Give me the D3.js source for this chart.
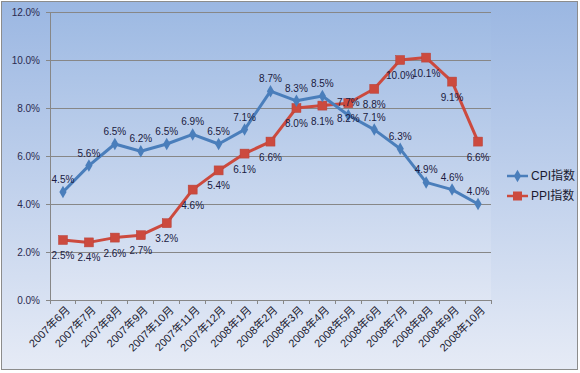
<!DOCTYPE html>
<html><head><meta charset="utf-8">
<script src="https://cdn.jsdelivr.net/npm/d3@7"></script>
<style>body{margin:0;background:#fff}svg{display:block}</style>
</head><body>
<script>
const categories = ["2007年6月","2007年7月","2007年8月","2007年9月","2007年10月","2007年11月","2007年12月","2008年1月","2008年2月","2008年3月","2008年4月","2008年5月","2008年6月","2008年7月","2008年8月","2008年9月","2008年10月"];
const cpi = [4.5,5.6,6.5,6.2,6.5,6.9,6.5,7.1,8.7,8.3,8.5,7.7,7.1,6.3,4.9,4.6,4.0];
const ppi = [2.5,2.4,2.6,2.7,3.2,4.6,5.4,6.1,6.6,8.0,8.1,8.2,8.8,10.0,10.1,9.1,6.6];
const yTicks = [0,2,4,6,8,10,12];
const seriesNames = ["CPI指数","PPI指数"];

const W=580,H=373;
const svg=d3.select("body").append("svg").attr("width",W).attr("height",H);
const defs=svg.append("defs");
const g1=defs.append("linearGradient").attr("id","bg").attr("x1",0).attr("y1",0).attr("x2",0).attr("y2",1);
g1.append("stop").attr("offset","0%").attr("stop-color","#9bb7e2");
g1.append("stop").attr("offset","100%").attr("stop-color","#e6ebf6");
const g2=defs.append("linearGradient").attr("id","pa").attr("x1",0).attr("y1",0).attr("x2",0).attr("y2",1);
g2.append("stop").attr("offset","0%").attr("stop-color","#9ebae3");
g2.append("stop").attr("offset","100%").attr("stop-color","#dfe6f4");

svg.append("rect").attr("x",1.5).attr("y",1.5).attr("width",576).attr("height",368)
  .attr("fill","url(#bg)").attr("stroke","#8c8c8c");

const m={l:50,r:491,t:12,b:300};
const x=d3.scaleBand().domain(categories).range([m.l,m.r]);
const y=d3.scaleLinear().domain([0,12]).range([m.b,m.t]);

svg.append("rect").attr("x",m.l).attr("y",m.t).attr("width",m.r-m.l).attr("height",m.b-m.t).attr("fill","url(#pa)");

const font='"Liberation Sans","Noto Sans CJK SC",sans-serif';
// gridlines
svg.append("g").selectAll("line").data(yTicks.filter(d=>d>0)).join("line")
  .attr("x1",m.l).attr("x2",m.r).attr("y1",d=>y(d)).attr("y2",d=>y(d))
  .attr("stroke","#878787").attr("stroke-width",1).attr("shape-rendering","crispEdges");

// y axis
const ya=svg.append("g").attr("transform",`translate(${m.l},0)`)
  .call(d3.axisLeft(y).tickValues(yTicks).tickFormat(d=>d.toFixed(1)+"%").tickSize(4).tickPadding(6));
ya.select(".domain").attr("stroke","#878787");
ya.selectAll(".tick line").attr("stroke","#878787");
ya.selectAll("text").attr("font-family",font).attr("font-size",10).attr("fill","#2a2a50");

// x axis
const xa=svg.append("g").attr("transform",`translate(0,${m.b})`)
  .call(d3.axisBottom(x).tickSize(0).tickFormat(""));
xa.select(".domain").attr("stroke","#878787");
svg.append("g").selectAll("line").data(d3.range(categories.length+1)).join("line")
  .attr("x1",i=>m.l+i*x.step()).attr("x2",i=>m.l+i*x.step()).attr("y1",m.b).attr("y2",m.b+4)
  .attr("stroke","#878787").attr("shape-rendering","crispEdges");
svg.append("g").selectAll("text").data(categories).join("text")
  .attr("transform",d=>`translate(${x(d)+x.bandwidth()/2+5},${m.b+8}) rotate(-45)`)
  .attr("text-anchor","end").attr("dy","0.35em")
  .attr("font-family",font).attr("font-size",11).attr("fill","#1a1a30").text(d=>d);

const cx=d=>x(d)+x.bandwidth()/2;
const line=d3.line().x((d,i)=>cx(categories[i])).y(d=>y(d));
const blue="#4a7ebb", red="#cc4a3e";

svg.append("path").datum(ppi).attr("d",line).attr("fill","none").attr("stroke",red).attr("stroke-width",3).attr("stroke-linejoin","round");
svg.append("g").selectAll("rect").data(ppi).join("rect")
  .attr("x",(d,i)=>cx(categories[i])-4.5).attr("y",d=>y(d)-4.5).attr("width",9).attr("height",9)
  .attr("fill",red).attr("stroke","#b8433a").attr("stroke-width",0.5);

svg.append("path").datum(cpi).attr("d",line).attr("fill","none").attr("stroke",blue).attr("stroke-width",3).attr("stroke-linejoin","round");
const diamond=d3.symbol().type(d3.symbolDiamond).size(45);
svg.append("g").selectAll("path").data(cpi).join("path")
  .attr("transform",(d,i)=>`translate(${cx(categories[i])},${y(d)})`).attr("d",diamond).attr("fill",blue);

// labels
svg.append("g").selectAll("text").data(cpi).join("text")
  .attr("x",(d,i)=>cx(categories[i])).attr("y",d=>y(d)-9)
  .attr("text-anchor","middle").attr("font-family",font).attr("font-size",10).attr("fill","#1a1a40")
  .text(d=>d.toFixed(1)+"%");
svg.append("g").selectAll("text").data(ppi).join("text")
  .attr("x",(d,i)=>cx(categories[i])).attr("y",d=>y(d)+19)
  .attr("text-anchor","middle").attr("font-family",font).attr("font-size",10).attr("fill","#1a1a40")
  .text(d=>d.toFixed(1)+"%");

// legend
const lg=svg.append("g");
[[blue,"d"],[red,"s"]].forEach(([c,t],i)=>{
  const ly=176+i*20;
  lg.append("line").attr("x1",507).attr("x2",528).attr("y1",ly).attr("y2",ly).attr("stroke",c).attr("stroke-width",2.5);
  if(t==="d") lg.append("path").attr("transform",`translate(517.5,${ly})`).attr("d",diamond).attr("fill",c);
  else lg.append("rect").attr("x",513).attr("y",ly-4.5).attr("width",9).attr("height",9).attr("fill",c);
  lg.append("text").attr("x",531).attr("y",ly).attr("dy","0.35em").attr("font-family",font).attr("font-size",12).attr("fill","#1a1a30").text(seriesNames[i]);
});
</script>
</body></html>
